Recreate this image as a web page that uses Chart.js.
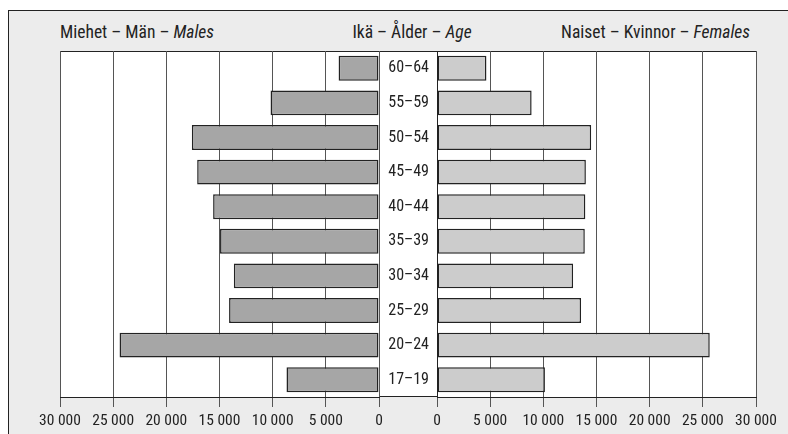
<!DOCTYPE html>
<html>
<head>
<meta charset="utf-8">
<script src="https://cdn.jsdelivr.net/npm/chart.js@4"></script>
<style>
  body { margin: 0; width: 788px; height: 434px; overflow: hidden; background: #fff;
         font-family: 'Roboto Condensed', 'Liberation Sans Narrow', Roboto, sans-serif; color: #222; }
  #frame { position: absolute; left: 8px; top: 10px; width: 800px; height: 500px;
           border: 1px solid #222; background: #ececec; }
  #plotbg { position: absolute; left: 60px; top: 51px; width: 696px; height: 346px;
            background: #fff; border-top: 1px solid #222; box-sizing: border-box; }
  #midline { position: absolute; left: 379px; top: 396px; width: 58px; height: 1px; background: #222; }
  .title { position: absolute; top: 22px; font-size: 17.5px; white-space: nowrap; }
  canvas { position: absolute; top: 0; }
</style>
</head>
<body>
<div id="frame"></div>
<div id="plotbg"></div>
<div id="midline"></div>
<div class="title" style="left:60px">Miehet – Män – <i>Males</i></div>
<div class="title" style="left:412px; transform: translateX(-50%)">Ikä – Ålder – <i>Age</i></div>
<div class="title" style="right:38px">Naiset – Kvinnor – <i>Females</i></div>
<canvas id="left" width="410" height="434" style="left:0"></canvas>
<canvas id="right" width="409" height="434" style="left:379px"></canvas>
<script>
const ageGroups = ['60–64', '55–59', '50–54', '45–49', '40–44', '35–39', '30–34', '25–29', '20–24', '17–19'];
const males = [3800, 10200, 17600, 17100, 15600, 14950, 13650, 14100, 24400, 8700];
const females = [4650, 8900, 14500, 14000, 13950, 13900, 12800, 13550, 25650, 10150];
const axisMax = 30000;
const axisStep = 5000;

Chart.defaults.font.family = "'Roboto Condensed', 'Liberation Sans Narrow', Roboto, sans-serif";
Chart.defaults.font.size = 15.5;
Chart.defaults.color = '#222';

function fmt(v) {
    return String(v).replace(/\B(?=(\d{3})+(?!\d))/g, ' ');
}

function xAxis(reverse) {
    return {
        type: 'linear',
        min: 0,
        max: axisMax,
        reverse: reverse,
        ticks: { stepSize: axisStep, padding: 5, callback: fmt, maxRotation: 0, autoSkip: false },
        grid: { color: '#555', lineWidth: 1, tickLength: 10, tickColor: '#555' },
        border: { display: true, color: '#222', width: 1 },
        afterFit: function (s) { s.height = 37; }
    };
}

function barSet(data, colour) {
    return {
        data: data,
        backgroundColor: colour,
        borderColor: '#222',
        borderWidth: 1.5,
        borderSkipped: false,
        barPercentage: 0.72,
        categoryPercentage: 1
    };
}

const common = {
    indexAxis: 'y',
    responsive: false,
    animation: false,
    plugins: { legend: { display: false }, tooltip: { enabled: false } }
};

new Chart(document.getElementById('left').getContext('2d'), {
    type: 'bar',
    data: { labels: ageGroups, datasets: [barSet(males, '#a6a6a6')] },
    options: Object.assign({}, common, {
        layout: { padding: { left: 60, right: 31, top: 51, bottom: 0 } },
        scales: {
            x: xAxis(true),
            y: { display: false }
        }
    })
});

new Chart(document.getElementById('right').getContext('2d'), {
    type: 'bar',
    data: { labels: ageGroups, datasets: [barSet(females, '#cccccc')] },
    options: Object.assign({}, common, {
        layout: { padding: { left: 0, right: 32, top: 51, bottom: 0 } },
        scales: {
            x: xAxis(false),
            y: {
                position: 'left',
                grid: { display: false },
                border: { display: true, color: '#222', width: 1 },
                ticks: { crossAlign: 'center', padding: 0, font: { size: 16 } },
                afterFit: function (s) { s.width = 58; }
            }
        }
    })
});
</script>
</body>
</html>
